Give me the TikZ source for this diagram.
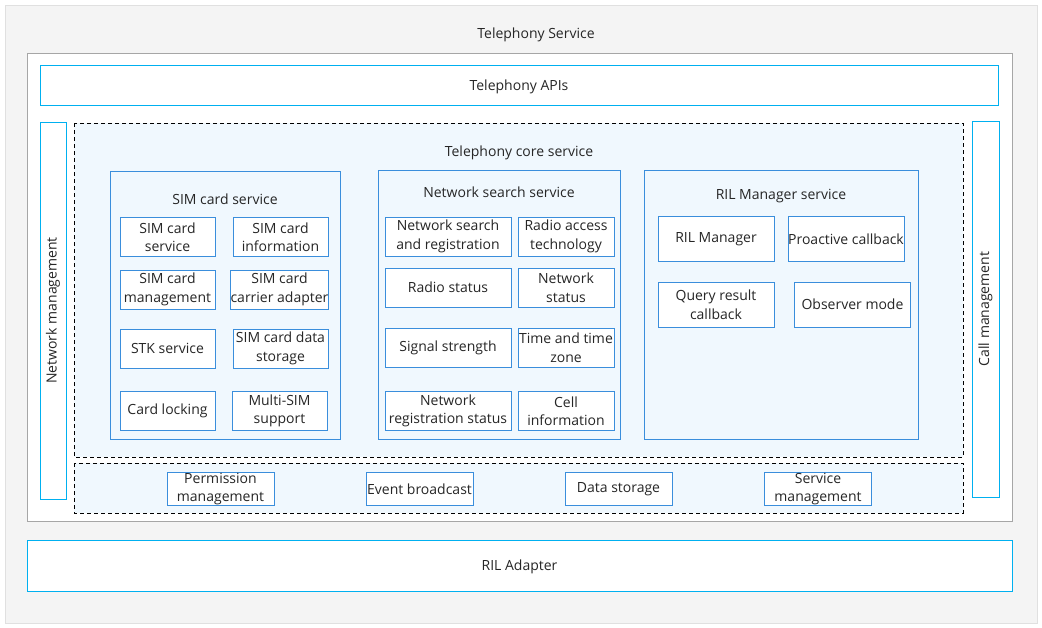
\documentclass[tikz,border=0pt]{standalone}
\usepackage{fontspec}
\setmainfont{Open Sans}
\usetikzlibrary{positioning}
\definecolor{Cyan}{HTML}{00B0F0}
\definecolor{Blu}{HTML}{3A8EDC}
\definecolor{CoreFill}{HTML}{F0F8FE}
\definecolor{Txt}{HTML}{262626}
\definecolor{Bg}{HTML}{F4F4F4}

\begin{document}
\begin{tikzpicture}[x=1pt, y=-1pt, font=\fontsize{14}{18.5}\selectfont, text=Txt,
  outer/.style={draw=Cyan, line width=1pt, fill=white, inner sep=0pt, text height=14pt, text depth=3.5pt},
  group/.style={draw=Blu, line width=1pt, inner sep=0pt},
  item/.style={draw=Blu, line width=1pt, fill=white, align=center, inner sep=0pt},
  dash box/.style={draw=black, line width=1pt, dash pattern=on 4pt off 3pt, fill=CoreFill}]
\useasboundingbox (0,0) rectangle (1042,627);
\draw[draw=black!12, fill=Bg] (5,5) rectangle (1037,623);
\node (svc) at (536,34.5) {Telephony Service};
\draw[draw=black!35, fill=white, line width=1pt] (27,53) rectangle (1012,521);

\node[outer, minimum width=958, minimum height=40] (api) at (519,85) {Telephony APIs};
\node[outer, minimum width=26, minimum height=377] (netmgmt) at (53,310.5) {};
\node[rotate=90] at (netmgmt.center) {Network management};
\node[outer, minimum width=27, minimum height=376] (callmgmt) at (985.5,309) {};
\node[rotate=90] at (callmgmt.center) {Call  management};

% core service and common part
\draw[dash box] (74,123) rectangle (963,457);
\node (core) at (519,152.5) {Telephony core service};
\draw[dash box] (74,463) rectangle (963,513);

\draw[group] (110,171) rectangle (340,439);
\node (simsvc) at (225,199) {SIM card service};
\draw[group] (378,170) rectangle (620,439);
\node (netsvc) at (499,192) {Network search service};
\draw[group] (644,170) rectangle (918,439);
\node (rilsvc) at (781,196) {RIL Manager service};

% SIM card service
\foreach \n / \x / \y / \t in {
  sa/167.5/237/{SIM card\\service}, sb/280.5/237/{SIM card\\information},
  sc/167.5/289.5/{SIM card\\management}, sd/279.5/289.5/{SIM card\\carrier adapter},
  se/167.5/348.5/{STK service}, sf/280.5/348.5/{SIM card data\\storage},
  sg/167.5/411/{Card locking}, sh/279.5/411/{Multi-SIM\\support}}
  \node[item, minimum width=95, minimum height=39] (\n) at (\x,\y) {\t};

% network search service
\foreach \n / \x / \y / \t in {
  na/448/236.5/{Network search\\and registration}, nb/566/236.5/{Radio access\\technology},
  nc/448/287.5/{Radio status}, nd/566/287.5/{Network\\status},
  ne/448/347.5/{Signal strength}, nf/566/347.5/{Time and time\\zone},
  ng/448/411/{Network\\registration status}, nh/566/411/{Cell\\information}}
  \node[item, minimum width={\x<500 ? 126 : 96}, minimum height=39] (\n) at (\x,\y) {\t};

% RIL manager service
\foreach \n / \x / \y / \t in {
  ra/716/239/{RIL Manager}, rb/846/239/{Proactive callback},
  rc/716/304.5/{Query result\\callback}, rd/852.5/304.5/{Observer mode}}
  \node[item, minimum width=116, minimum height=45] (\n) at (\x,\y) {\t};

% common
\foreach \n / \x / \t in {
  ca/220.5/{Permission\\management}, cb/419.5/{Event broadcast},
  cc/618.5/{Data storage}, cd/818/{Service\\management}}
  \node[item, minimum width=107, minimum height=33] (\n) at (\x,489) {\t};

\node[outer, minimum width=985, minimum height=51] (ril) at (519.5,565.5) {RIL Adapter};
\end{tikzpicture}
\end{document}
